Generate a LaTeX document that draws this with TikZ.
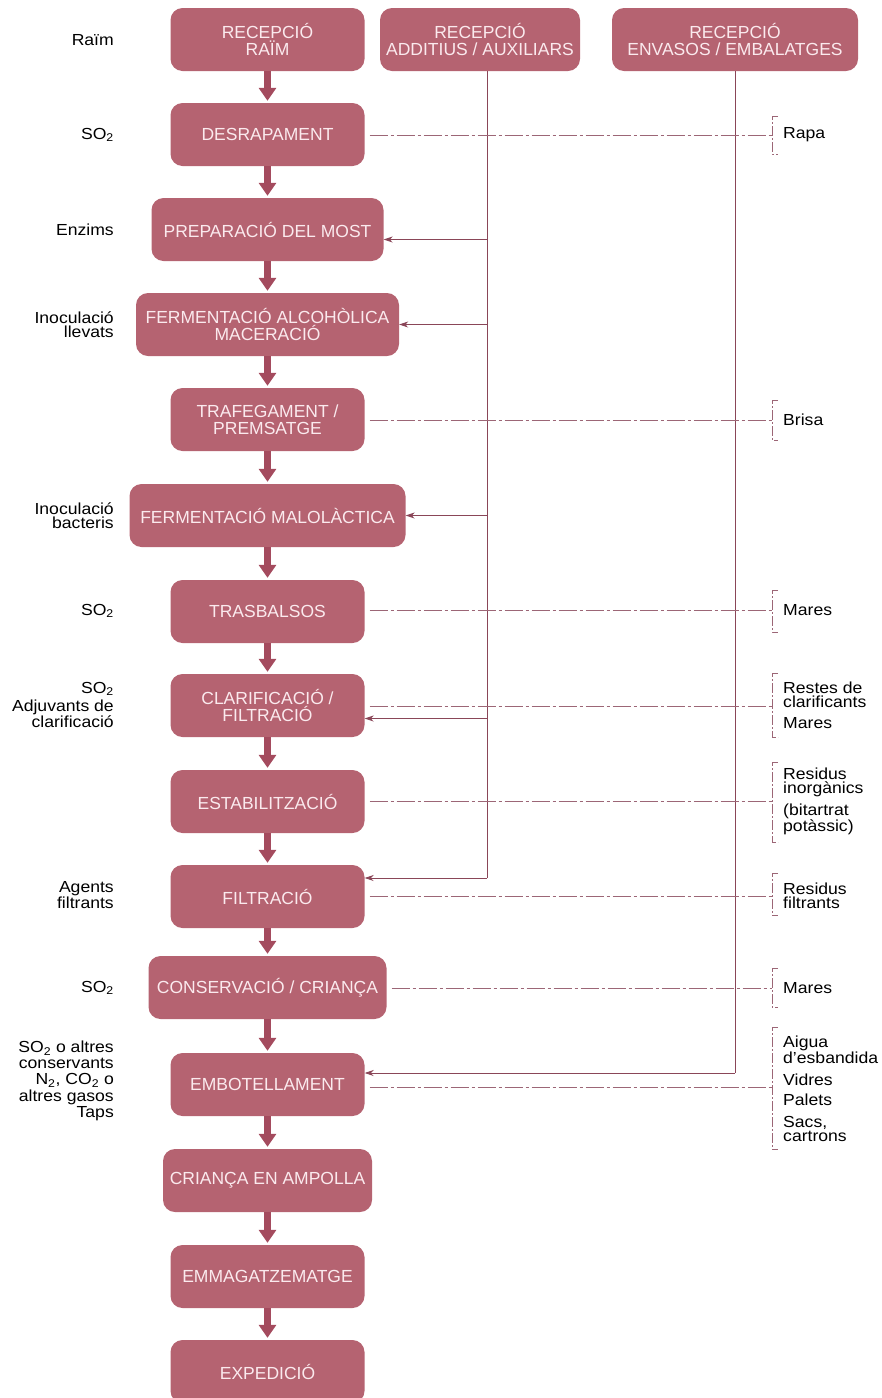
\documentclass[tikz,border=0pt]{standalone}
\usepackage{fontspec}
\setmainfont{Liberation Sans}
\newfontfamily\lblfont{Liberation Sans}[FakeStretch=1.1]
\usetikzlibrary{arrows.meta,calc}
\definecolor{stepfill}{HTML}{B56371}
\definecolor{steptext}{HTML}{FBEAEE}
\definecolor{flowc}{HTML}{A44B5E}
\definecolor{feedc}{HTML}{8A4658}
\definecolor{wastec}{HTML}{9C6676}
\newcommand{\sotwo}{SO\textsubscript{2}}
\begin{document}
\begin{tikzpicture}[x=1pt,y=-1pt,
  stepbox/.style={rounded corners=12pt, fill=stepfill, text=steptext,
    minimum height=63pt, minimum width=194pt, align=center, inner sep=0pt,
    font=\fontsize{17.5}{17}\selectfont},
  flow/.style={draw=flowc, line width=7pt, shorten >=2pt, -{Triangle[width=17pt,length=13pt]}},
  feed/.style={draw=feedc, line width=0.9pt},
  feedarrow/.style={feed, -{Stealth[length=9pt,width=6pt]}},
  waste/.style={draw=wastec, line width=0.8pt, dash pattern=on 18pt off 3pt on 3pt off 3pt},
  brk/.style={draw=wastec, line width=0.8pt, dash pattern=on 10pt off 2pt on 2pt off 2pt},
  inlabel/.style={anchor=east, align=right, inner sep=0pt, font=\lblfont\fontsize{16}{14}\selectfont},
  outlabel/.style={anchor=west, align=left, inner sep=0pt, font=\lblfont\fontsize{16}{14}\selectfont}]
\useasboundingbox (0,0) rectangle (882,1398);

% process steps
\node[stepbox] (b1) at (267.5,39.5) {RECEPCIÓ\\RAÏM};
\node[stepbox] (b2) at (267.5,134.5) {DESRAPAMENT};
\node[stepbox, minimum width=232pt] (b3) at (267.5,229.5) {PREPARACIÓ DEL MOST};
\node[stepbox, minimum width=263pt] (b4) at (267.5,324.5) {FERMENTACIÓ ALCOHÒLICA\\MACERACIÓ};
\node[stepbox] (b5) at (267.5,419.5) {TRAFEGAMENT /\\PREMSATGE};
\node[stepbox, minimum width=276pt] (b6) at (267.5,515.5) {FERMENTACIÓ MALOLÀCTICA};
\node[stepbox] (b7) at (267.5,611.5) {TRASBALSOS};
\node[stepbox] (b8) at (267.5,705.5) {CLARIFICACIÓ /\\FILTRACIÓ};
\node[stepbox] (b9) at (267.5,801.5) {ESTABILITZACIÓ};
\node[stepbox] (b10) at (267.5,896.5) {FILTRACIÓ};
\node[stepbox, minimum width=238pt] (b11) at (267.5,987.5) {CONSERVACIÓ / CRIANÇA};
\node[stepbox] (b12) at (267.5,1084.5) {EMBOTELLAMENT};
\node[stepbox, minimum width=209pt] (b13) at (267.5,1180.5) {CRIANÇA EN AMPOLLA};
\node[stepbox] (b14) at (267.5,1276.5) {EMMAGATZEMATGE};
\node[stepbox] (b15) at (267.5,1371.5) {EXPEDICIÓ};

% supply receptions
\node[stepbox, minimum width=200pt] (ra) at (480,39.5) {RECEPCIÓ\\ADDITIUS / AUXILIARS};
\node[stepbox, minimum width=246pt] (re) at (735,39.5) {RECEPCIÓ\\ENVASOS / EMBALATGES};

% main flow
\foreach \i/\j in {1/2,2/3,3/4,4/5,5/6,6/7,7/8,8/9,9/10,10/11,11/12,12/13,13/14,14/15}
  \draw[flow] (b\i.south) -- (b\j.north);

% additive supply line
\coordinate (ta) at (487,878);
\draw[feed] ([xshift=7pt]ra.south) -- (ta);
\draw[feedarrow] ([yshift=-10pt]b3.east -| ta) -- ([yshift=-10pt]b3.east);
\draw[feedarrow] (b4.east -| ta) -- (b4.east);
\draw[feedarrow] (b6.east -| ta) -- (b6.east);
\draw[feedarrow] ([yshift=-13pt]b8.east -| ta) -- ([yshift=-13pt]b8.east);
\draw[feedarrow] (ta) -- (ta -| b10.east);

% packaging supply line
\coordinate (te) at (735,1073);
\draw[feed] (re.south) -- (te);
\draw[feedarrow] (te) -- (te -| b12.east);

% waste outputs
\foreach \n/\y/\t/\b in {2/135/116/154, 5/420/400/440, 7/610/590/632, 8/706/673/737,
                         9/801/762/842, 10/896/873/915, 11/988/968/1007, 12/1087/1027/1149}{
  \coordinate (k\n) at (772,\y);
  \draw[waste] ([xshift=5pt]b\n.east |- k\n) -- (k\n);
  \draw[brk] (778,\t) -- (772,\t) -- (772,\b) -- (778,\b);
}

% inputs
\node[inlabel] (i1) at (114,40) {Raïm};
\node[inlabel] (i2) at (114,135) {\sotwo};
\node[inlabel] (i3) at (114,230) {Enzims};
\node[inlabel] (i4) at (114,325) {Inoculació\\llevats};
\node[inlabel] (i6) at (114,516) {Inoculació\\bacteris};
\node[inlabel] (i7) at (114,611) {\sotwo};
\node[inlabel] (i8a) at (114,689) {\sotwo};
\node[inlabel] (i8b) at (114,714) {Adjuvants de\\clarificació};
\node[inlabel] (i10) at (114,895) {Agents\\filtrants};
\node[inlabel] (i11) at (114,988) {\sotwo};
\node[inlabel] (i12a) at (114,1055) {\sotwo{} o altres\\[1.5pt]conservants};
\node[inlabel] (i12b) at (114,1089) {N\textsubscript{2}, CO\textsubscript{2} o\\[1.5pt]altres gasos};
\node[inlabel] (i12c) at (114,1114) {Taps};

% outputs
\node[outlabel] (o2) at (783,135) {Rapa};
\node[outlabel] (o5) at (783,420) {Brisa};
\node[outlabel] (o7) at (783,610) {Mares};
\node[outlabel] (o8a) at (783,695) {Restes de\\clarificants};
\node[outlabel] (o8b) at (783,723) {Mares};
\node[outlabel] (o9a) at (783,782) {Residus\\inorgànics};
\node[outlabel] (o9b) at (783,819) {(bitartrat\\potàssic)};
\node[outlabel] (o10) at (783,896) {Residus\\filtrants};
\node[outlabel] (o11) at (783,988) {Mares};
\node[outlabel] (o12a) at (783,1050) {Aigua\\d’esbandida};
\node[outlabel] (o12b) at (783,1080) {Vidres};
\node[outlabel] (o12c) at (783,1100) {Palets};
\node[outlabel] (o12d) at (783,1129) {Sacs,\\cartrons};
\end{tikzpicture}
\end{document}
